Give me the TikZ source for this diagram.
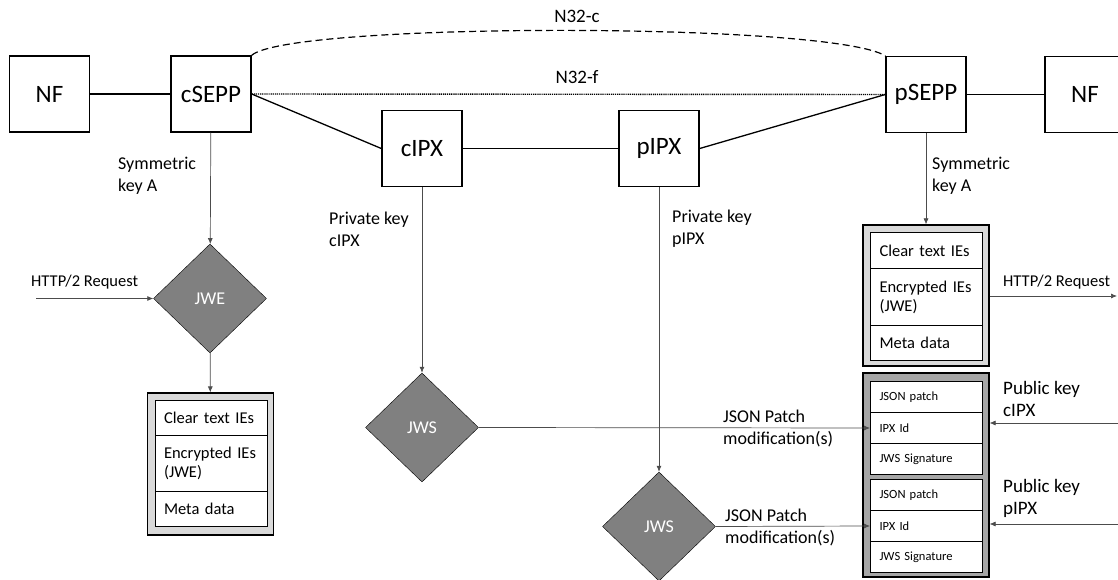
\documentclass[tikz,border=0pt]{standalone}
\usepackage{fontspec}
\setmainfont{Carlito}
\usetikzlibrary{shapes.geometric,arrows.meta}

\begin{document}
\begin{tikzpicture}[x=1bp,y=-1bp,
    entity/.style={draw, line width=1.4bp, minimum width=80bp, minimum height=76bp, inner sep=0pt, font=\fontsize{25bp}{30bp}\selectfont},
    link/.style={line width=1.3bp},
    flow/.style={-{Latex[length=6bp,width=5bp]}, line width=0.7bp, draw=black!70},
    crypto/.style={diamond, draw, fill=gray, minimum width=113bp, minimum height=109bp, inner sep=0pt, text=white, font=\fontsize{18bp}{20bp}\selectfont},
    frame/.style={draw, line width=1.2bp, minimum width=126bp, inner sep=0pt},
    cell/.style={draw, fill=white, line width=1bp, anchor=north west, minimum width=112bp, text width=94bp, inner xsep=9bp, inner ysep=0pt, align=left, font=\fontsize{16.5bp}{19bp}\selectfont},
    smallcell/.style={cell, minimum height=31bp, font=\fontsize{12.5bp}{14bp}\selectfont},
    note/.style={anchor=west, align=left, inner sep=0pt, font=\fontsize{18bp}{22bp}\selectfont}]
  \useasboundingbox (0,0) rectangle (1118,580);

  \node[entity] (nfc) at (49.5,94) {NF};
  \node[entity] (csepp) at (211,94) {cSEPP};
  \node[entity] (cipx) at (422,148.5) {cIPX};
  \node[entity] (pipx) at (659,148.5) {pIPX};
  \node[entity] (psepp) at (926,94.5) {pSEPP};
  \node[entity] (nfp) at (1085,94.5) {NF};

  \draw[link] (nfc) -- (csepp);
  \draw[link] (csepp.east) -- (cipx.west);
  \draw[link] (cipx) -- (pipx);
  \draw[link] (pipx.east) -- (psepp.west);
  \draw[link] (psepp) -- (nfp);
  \draw[line width=1.2bp, dash pattern=on 7bp off 4bp] (csepp.north east) .. controls (290,22) and (830,22) .. (psepp.north west);
  \draw[line width=1.4bp, dash pattern=on 1.2bp off 0.9bp] (csepp.east) -- (psepp.west);
  \node[font=\fontsize{19bp}{22bp}\selectfont] (n32c) at (577,16) {N32-c};
  \node[font=\fontsize{19bp}{22bp}\selectfont] (n32f) at (577,77) {N32-f};

  \node[crypto] (jwe) at (210,298.5) {JWE};
  \node[crypto] (jwsc) at (422,427.5) {JWS};
  \node[crypto] (jwsp) at (659,526.5) {JWS};

  \node[frame, fill=gray!30, minimum height=142bp] (cmsg) at (210.5,464) {};
  \node[cell, minimum height=35bp] (cclear) at (154.5,400) {Clear text IEs};
  \node[cell, minimum height=56bp] (cenc) at (154.5,435) {Encrypted IEs\\(JWE)};
  \node[cell, minimum height=35bp] (cmeta) at (154.5,491) {Meta data};

  \node[frame, fill=gray!30, minimum height=141bp] (pmsg) at (926,295.5) {};
  \node[cell, minimum height=36bp] (pclear) at (870,232) {Clear text IEs};
  \node[cell, minimum height=57bp] (penc) at (870,268) {Encrypted IEs\\(JWE)};
  \node[cell, minimum height=35bp] (pmeta) at (870,325) {Meta data};

  \node[frame, fill=gray!70, minimum height=204bp] (sigs) at (926,475) {};
  \node[smallcell] (patchc) at (870,381) {JSON patch};
  \node[smallcell] (idc) at (870,412) {IPX Id};
  \node[smallcell] (sigc) at (870,443) {JWS Signature};
  \node[smallcell] (patchp) at (870,479) {JSON patch};
  \node[smallcell] (idp) at (870,510) {IPX Id};
  \node[smallcell] (sigp) at (870,541) {JWS Signature};

  \coordinate (reqin) at (36,298.5);
  \coordinate (reqout) at (1117,296);
  \coordinate (keyc) at (1118,423);
  \coordinate (keyp) at (1118,524);

  \draw[flow] (csepp) -- (jwe);
  \draw[flow] (reqin) -- (jwe);
  \draw[flow] (jwe) -- (cmsg);
  \draw[flow] (cipx) -- (jwsc);
  \draw[flow] (pipx) -- (jwsp);
  \draw[flow] (psepp) -- (pmsg);
  \draw[flow] (pmsg.east |- reqout) -- (reqout);
  \draw[flow] (jwsc.east) -- (idc.west);
  \draw[flow] (jwsp.east) -- (idp.west);
  \draw[flow] (keyc) -- (keyc -| sigs.east);
  \draw[flow] (keyp) -- (keyp -| sigs.east);

  \node[note] (symc) at (118,176) {Symmetric\\key A};
  \node[note] (symp) at (932,176) {Symmetric\\key A};
  \node[note] (privc) at (329,229) {Private key\\cIPX};
  \node[note] (privp) at (672,229) {Private key\\pIPX};
  \node[note, font=\fontsize{16.5bp}{22bp}\selectfont] (httpc) at (31,282) {HTTP/2 Request};
  \node[note, font=\fontsize{16.5bp}{22bp}\selectfont] (httpp) at (1003,282) {HTTP/2 Request};
  \node[note, font=\fontsize{19bp}{22bp}\selectfont] (pubc) at (1003,399) {Public key\\cIPX};
  \node[note, font=\fontsize{19bp}{22bp}\selectfont] (pubp) at (1003,498) {Public key\\pIPX};
  \node[note] (modc) at (723,428.5) {JSON Patch\\modification(s)};
  \node[note] (modp) at (725,527) {JSON Patch\\modification(s)};
\end{tikzpicture}
\end{document}
